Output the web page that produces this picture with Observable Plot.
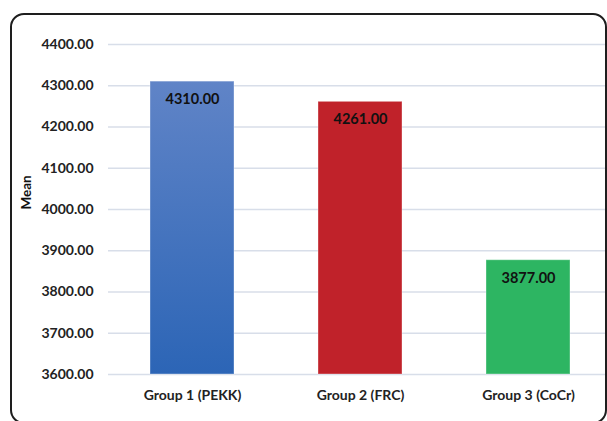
<!DOCTYPE html>
<html>
<head>
<meta charset="utf-8">
<script src="https://cdn.jsdelivr.net/npm/d3@7"></script>
<script src="https://cdn.jsdelivr.net/npm/@observablehq/plot@0.6"></script>
<style>
  html, body { margin: 0; padding: 0; background: #fff; overflow: hidden; }
  #wrap { position: relative; width: 607px; height: 421px; overflow: hidden; }
  #chart { position: absolute; left: 0; top: 0; }
  #frame { position: absolute; left: 10px; top: 13px; width: 593px; height: 407px;
           border: 2px solid #1e1e1e; border-radius: 14px; pointer-events: none; }
</style>
</head>
<body>
<div id="wrap"><div id="chart"></div><div id="frame"></div></div>
<script>
const groups = ["Group 1 (PEKK)", "Group 2 (FRC)", "Group 3 (CoCr)"];
const means = [4310, 4261, 3877];
const barColors = ["url(#gBlue)", "#c0222a", "#2db562"];
const yTicks = [3600, 3700, 3800, 3900, 4000, 4100, 4200, 4300, 4400];

const data = groups.map((g, i) => ({group: g, mean: means[i], color: barColors[i]}));
const font = "Lato, 'Open Sans', sans-serif";

const plot = Plot.plot({
  width: 607,
  height: 412,
  marginLeft: 108,
  marginRight: 0,
  marginTop: 44,
  marginBottom: 38,
  style: {background: "transparent", fontFamily: font, fontWeight: "bold", fontSize: "14px", color: "#222"},
  x: {domain: groups, range: [108, 612], padding: 0.5, paddingOuter: 0.25, label: null},
  y: {domain: [3600, 4400], label: null},
  color: {type: "identity"},
  marks: [
    Plot.ruleY(yTicks, {stroke: "#d8dee9", strokeWidth: 1.5}),
    Plot.barY(data, {x: "group", y1: 3600, y2: "mean", fill: "color", stroke: "white", strokeOpacity: 0.35, strokeWidth: 1}),
    Plot.text(data, {x: "group", y: "mean", text: d => d3.format(".2f")(d.mean), dy: 18, fill: "#111", fontSize: 14.5, fontWeight: "bold"}),
    Plot.axisY({ticks: yTicks, tickFormat: d3.format(".2f"), tickSize: 0, tickPadding: 15, label: null}),
    Plot.axisX({tickSize: 0, tickPadding: 16, label: null, fontSize: 14}),
    Plot.text(["Mean"], {text: d => d, frameAnchor: "left", dx: -82, rotate: -90, fontSize: 13.5, fontWeight: "bold", fill: "#111"})
  ]
});

const svg = d3.select(plot);
const defs = svg.insert("defs", ":first-child");
const grad = defs.append("linearGradient").attr("id", "gBlue").attr("x1", 0).attr("y1", 0).attr("x2", 0).attr("y2", 1);
grad.append("stop").attr("offset", "0%").attr("stop-color", "#6084c7");
grad.append("stop").attr("offset", "100%").attr("stop-color", "#2c65b6");

document.getElementById("chart").appendChild(plot);
</script>
</body>
</html>
